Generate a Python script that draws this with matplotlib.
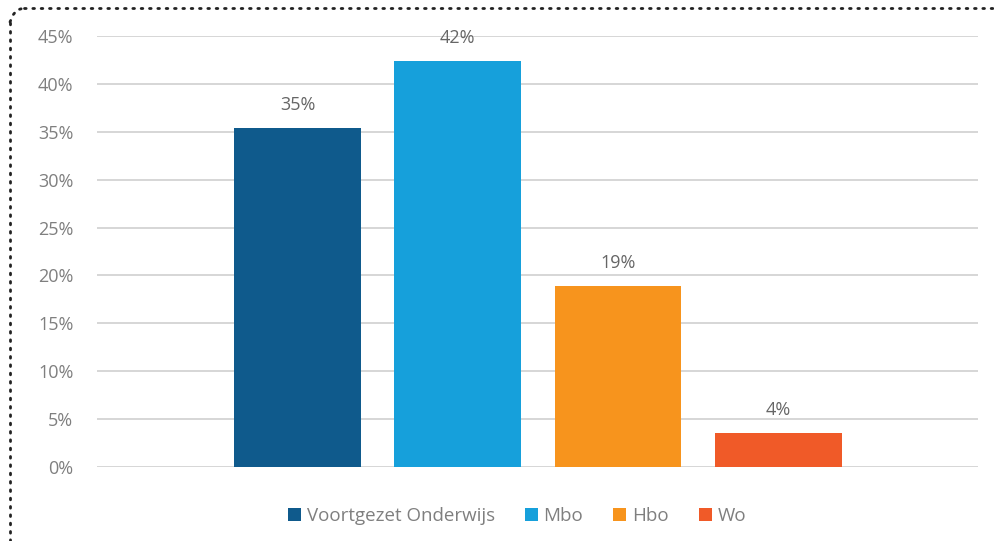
import matplotlib
matplotlib.use("Agg")
import matplotlib.pyplot as plt
from matplotlib.lines import Line2D

series = ["Voortgezet Onderwijs", "Mbo", "Hbo", "Wo"]
values = [0.354, 0.424, 0.189, 0.036]
labels = ["35%", "42%", "19%", "4%"]
colors = ["#0F5A8C", "#16A0DB", "#F7941D", "#F05A28"]
yticks = [0, 0.05, 0.10, 0.15, 0.20, 0.25, 0.30, 0.35, 0.40, 0.45]
ytick_labels = ["0%", "5%", "10%", "15%", "20%", "25%", "30%", "35%", "40%", "45%"]

plt.rcParams['font.family'] = ['Open Sans', 'DejaVu Sans']
txt = "#7F7F7F"

fig = plt.figure(figsize=(9.95, 5.41), dpi=100)
ax = fig.add_axes([97/995, 1-467/541, (978-97)/995, (467-36)/541])

offsets = [-0.2724, -0.0907, 0.0913, 0.2735]
width = 0.144
handles = []
for off, v, lab, c, name in zip(offsets, values, labels, colors, series):
    b = ax.bar(off, v, width=width, color=c, label=name, zorder=3)
    handles.append(b)
    ax.annotate(lab, (off, v), xytext=(0, 10), textcoords="offset points",
                ha="center", va="bottom", fontsize=13, color="#666666")

ax.set_xlim(-0.5, 0.5)
ax.set_ylim(0, 0.45)
ax.set_yticks(yticks)
ax.set_yticklabels(ytick_labels, fontsize=13, color=txt)
ax.set_xticks([])
ax.tick_params(axis='y', length=0, pad=17)
ax.grid(axis='y', color="#D0D0D0", linewidth=1.2, zorder=0)
for s in ax.spines.values():
    s.set_visible(False)

fig.legend(handles=[h[0] for h in handles], labels=series, loc="center",
           bbox_to_anchor=(517/995, 1-516/541), ncol=4, frameon=False,
           fontsize=13.5, handlelength=0.7, handleheight=0.7,
           handletextpad=0.3, columnspacing=1.6, labelcolor=txt)

# dotted border (top and left visible)
ls = (0, (0.6, 2.4))
kw = dict(transform=fig.transFigure, color="#222222", linestyle=ls,
          linewidth=2.0, dash_capstyle="round")
fig.add_artist(Line2D([10/995, 10/995], [0, 1-22/541], **kw))
fig.add_artist(Line2D([24/995, 1], [1-8/541, 1-8/541], **kw))
fig.add_artist(Line2D([10/995, 13/995, 17/995, 24/995],
                      [1-22/541, 1-15/541, 1-10/541, 1-8/541], **kw))

fig.savefig("out.png", dpi=100)
